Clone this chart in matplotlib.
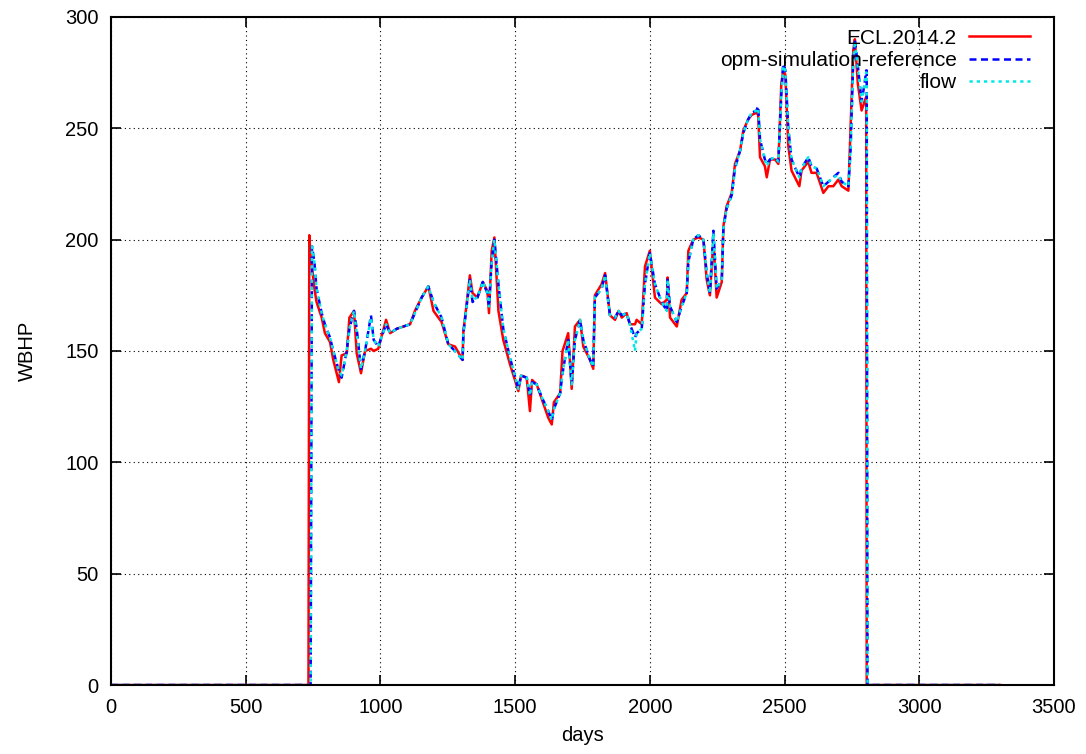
import matplotlib
matplotlib.use("Agg")
import matplotlib.pyplot as plt

# WBHP vs days, three simulators
days = [0, 733, 736, 741, 746, 755, 763, 782, 794, 813, 825, 846, 856, 875,
        885, 902, 912, 928, 943, 965, 975, 992, 1021, 1036, 1061, 1110, 1128,
        1153, 1178, 1197, 1227, 1252, 1277, 1305, 1308, 1318, 1332, 1342, 1360,
        1380, 1397, 1403, 1413, 1423, 1438, 1456, 1481, 1512, 1522, 1543, 1555,
        1563, 1580, 1600, 1623, 1636, 1644, 1667, 1676, 1697, 1710, 1722, 1741,
        1753, 1778, 1790, 1796, 1821, 1834, 1852, 1871, 1884, 1896, 1914, 1926,
        1945, 1951, 1970, 1982, 2000, 2019, 2044, 2063, 2066, 2075, 2100, 2118,
        2137, 2143, 2161, 2180, 2199, 2211, 2223, 2236, 2248, 2267, 2273, 2285,
        2304, 2316, 2335, 2347, 2365, 2378, 2396, 2402, 2409, 2427, 2434, 2446,
        2465, 2477, 2488, 2495, 2503, 2514, 2526, 2555, 2563, 2588, 2600, 2619,
        2644, 2663, 2681, 2700, 2712, 2737, 2745, 2755, 2761, 2772, 2786, 2797,
        2803, 2805, 2808, 3300]

ecl = [0, 0, 202, 192, 188, 178, 172, 165, 158, 154, 146, 136, 148, 149,
       165, 168, 149, 140, 150, 151, 150, 151, 164, 158, 160, 162, 168,
       174, 179, 168, 163, 153, 152, 146, 159, 169, 184, 176, 174,
       181, 177, 167, 195, 201, 168, 155, 144, 132, 139, 138, 123,
       137, 135, 128, 120, 117, 127, 131, 150, 158, 133, 161, 164,
       152, 146, 142, 175, 180, 185, 166, 164, 168, 165, 167, 162,
       162, 164, 162, 188, 195, 174, 171, 173, 183, 165, 161, 173,
       176, 195, 200, 201, 200, 182, 175, 200, 174, 181, 206, 215,
       221, 234, 240, 249, 254, 256, 257, 256, 237, 233, 228, 236,
       236, 234, 270, 276, 274, 242, 231, 224, 231, 235, 230, 230,
       221, 224, 224, 227, 224, 222, 250, 285, 290, 270, 258, 262,
       264, 0, 0, 0]

reference = [0, 0, 0, 0, 197, 190, 178, 167, 162, 156, 150, 141, 138, 150,
             160, 168, 160, 142, 150, 166, 155, 152, 162, 158, 160, 162, 167,
             174, 179, 172, 165, 153, 150, 146, 158, 168, 182, 172, 174,
             181, 176, 170, 190, 200, 180, 160, 147, 133, 139, 138, 130,
             136, 135, 129, 123, 119, 124, 131, 140, 155, 135, 155, 164,
             155, 146, 143, 174, 178, 184, 166, 165, 168, 166, 167, 162,
             156, 158, 160, 180, 194, 180, 172, 168, 182, 170, 163, 170,
             176, 190, 200, 202, 200, 185, 176, 204, 178, 182, 205, 214,
             220, 232, 240, 248, 254, 257, 258, 260, 245, 236, 234, 236,
             237, 235, 265, 279, 276, 250, 236, 228, 232, 237, 233, 232,
             224, 226, 228, 230, 226, 224, 240, 280, 290, 278, 262, 270,
             276, 276, 0, 0]

flow = [0, 0, 0, 0, 197, 190, 178, 167, 162, 156, 150, 141, 139, 150,
        160, 168, 158, 142, 150, 165, 155, 152, 162, 158, 160, 162, 167,
        174, 179, 172, 165, 153, 150, 146, 158, 168, 182, 173, 174,
        181, 176, 170, 190, 200, 180, 160, 147, 133, 139, 138, 130,
        136, 135, 129, 123, 119, 124, 131, 140, 155, 135, 155, 164,
        155, 146, 143, 174, 178, 184, 166, 165, 168, 166, 167, 162,
        150, 158, 160, 180, 194, 180, 172, 168, 182, 170, 163, 170,
        176, 190, 200, 202, 200, 185, 176, 203, 178, 182, 205, 214,
        220, 232, 240, 248, 254, 257, 258, 259, 245, 236, 233, 236,
        237, 235, 265, 278, 276, 250, 236, 228, 232, 237, 233, 232,
        224, 226, 228, 229, 226, 224, 240, 280, 289, 277, 262, 270,
        275, 275, 0, 0]

series_labels = ["ECL.2014.2", "opm-simulation-reference", "flow"]

plt.rcParams["font.family"] = ["Liberation Sans", "DejaVu Sans"]
plt.rcParams["font.size"] = 14.5

fig = plt.figure(figsize=(10.86, 7.54), dpi=100)
ax = fig.add_axes([0.1022, 0.0915, 0.8683, 0.886])

ax.plot(days, ecl, color="#ff0000", lw=1.8, ls="-", label=series_labels[0])
ax.plot(days, reference, color="#0000ff", lw=1.8, ls=(0, (2.8, 1.8)), label=series_labels[1])
ax.plot(days, flow, color="#00e8e8", lw=1.8, ls=(0, (1.3, 1.6)), label=series_labels[2])

ax.set_xlim(0, 3500)
ax.set_ylim(0, 300)
ax.set_xticks(range(0, 3501, 500))
ax.set_yticks(range(0, 301, 50))
ax.grid(True, color="black", ls=(0, (1, 3)), lw=0.8)
ax.tick_params(direction="in", top=True, right=True, length=7, width=1.2,
               labelsize=14.5, pad=9)
for s in ax.spines.values():
    s.set_linewidth(1.5)

ax.set_xlabel("days", labelpad=7)
ax.set_ylabel("WBHP", labelpad=20)

leg = ax.legend(loc="upper right", bbox_to_anchor=(0.983, 0.995),
                borderaxespad=0, frameon=False, markerfirst=False,
                handlelength=2.9, handletextpad=0.6, labelspacing=0.16,
                fontsize=15)

fig.savefig("out.png", dpi=100)
